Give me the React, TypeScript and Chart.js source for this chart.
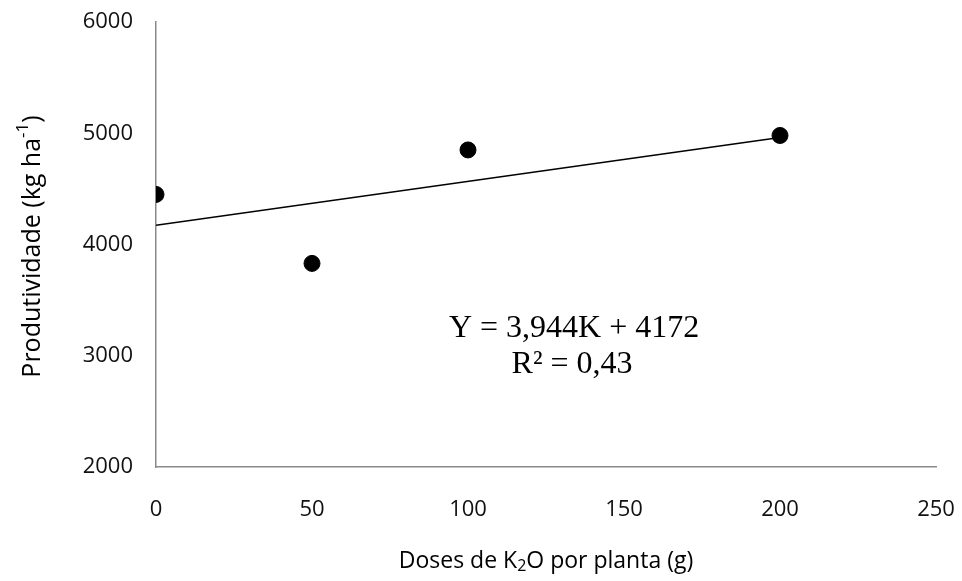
import React, { useEffect, useRef } from "react";
import { Chart, registerables } from "chart.js";

Chart.register(...registerables);

const doses = [0, 50, 100, 200];
const produtividade = [4450, 3830, 4850, 4980];
const slope = 3.944;
const intercept = 4172;
const trendX = [0, 200];
const yTicks = [2000, 3000, 4000, 5000, 6000];
const xTicks = [0, 50, 100, 150, 200, 250];
const equationLines = ["Y = 3,944K + 4172", "R² = 0,43"];
const xTitleParts = [
  { t: "Doses de K", k: "n" },
  { t: "2", k: "sub" },
  { t: "O por planta (g)", k: "n" },
];
const yTitleParts = [
  { t: "Produtividade (kg ha", k: "n" },
  { t: "-1", k: "sup" },
  { t: ")", k: "n" },
];

const FONT = "'Open Sans', sans-serif";
const L = 156, R = 936, T = 22, B = 467, W = 962, H = 581;

function drawParts(ctx: CanvasRenderingContext2D, parts: { t: string; k: string }[], size: number) {
  const small = Math.round(size * 0.68);
  let total = 0;
  for (const p of parts) {
    ctx.font = `${p.k === "n" ? size : small}px ${FONT}`;
    total += ctx.measureText(p.t).width;
  }
  let x = -total / 2;
  for (const p of parts) {
    ctx.font = `${p.k === "n" ? size : small}px ${FONT}`;
    const dy = p.k === "sub" ? size * 0.22 : p.k === "sup" ? -size * 0.38 : 0;
    ctx.fillText(p.t, x, dy);
    x += ctx.measureText(p.t).width;
  }
}

const textPlugin = {
  id: "texts",
  afterDraw(chart: any) {
    const ctx = chart.ctx as CanvasRenderingContext2D;
    const ca = chart.chartArea;
    ctx.save();
    ctx.fillStyle = "#000";
    ctx.textBaseline = "middle";
    ctx.textAlign = "left";
    ctx.save();
    ctx.translate((ca.left + ca.right) / 2, 561);
    drawParts(ctx, xTitleParts, 23);
    ctx.restore();
    ctx.save();
    ctx.translate(33, (ca.top + ca.bottom) / 2 + 2);
    ctx.rotate(-Math.PI / 2);
    drawParts(ctx, yTitleParts, 25);
    ctx.restore();
    ctx.font = `32px 'Liberation Serif', 'Times New Roman', serif`;
    ctx.textAlign = "center";
    ctx.textBaseline = "alphabetic";
    const cx = ca.left + (ca.right - ca.left) * 0.536;
    ctx.fillText(equationLines[0], cx, 337);
    ctx.fillText(equationLines[1], cx - 2, 373);
    ctx.restore();
  },
};

const noPad = (s: any) => {
  s.paddingTop = 0;
  s.paddingBottom = 0;
  s.paddingLeft = 0;
  s.paddingRight = 0;
};

export default function App() {
  const ref = useRef<HTMLCanvasElement>(null);
  useEffect(() => {
    document.body.style.margin = "0";
    const chart = new Chart(ref.current!, {
      type: "scatter",
      data: {
        datasets: [
          {
            label: "Produtividade",
            data: doses.map((d, i) => ({ x: d, y: produtividade[i] })),
            backgroundColor: "#000",
            borderColor: "#000",
            pointRadius: 8,
            pointHoverRadius: 8,
            order: 1,
          },
          {
            label: "Linear",
            type: "line",
            data: trendX.map((x) => ({ x, y: intercept + slope * x })),
            borderColor: "#000",
            borderWidth: 1.5,
            pointRadius: 0,
            fill: false,
            order: 2,
          } as any,
        ],
      },
      options: {
        responsive: false,
        animation: false,
        layout: { padding: { top: T, right: W - R, left: 0, bottom: 0 } },
        plugins: { legend: { display: false }, tooltip: { enabled: false } },
        scales: {
          x: {
            type: "linear",
            min: 0,
            max: 250,
            afterBuildTicks: (s: any) => { s.ticks = xTicks.map((v) => ({ value: v })); },
            afterFit: (s: any) => { s.height = H - B; noPad(s); },
            grid: { display: false, drawTicks: false },
            border: { display: true, color: "#898989", width: 1.5 },
            ticks: {
              color: "#111",
              font: { family: FONT, size: 22 },
              padding: 30,
              maxRotation: 0,
              callback: (v: any) => String(v),
            },
          },
          y: {
            type: "linear",
            min: 2000,
            max: 6000,
            afterBuildTicks: (s: any) => { s.ticks = yTicks.map((v) => ({ value: v })); },
            afterFit: (s: any) => { s.width = L; noPad(s); },
            grid: { display: false, drawTicks: false },
            border: { display: true, color: "#898989", width: 1.5 },
            ticks: {
              color: "#111",
              font: { family: FONT, size: 22 },
              padding: 23,
              callback: (v: any) => String(v),
            },
          },
        },
      },
      plugins: [textPlugin],
    });
    return () => chart.destroy();
  }, []);
  return (
    <div style={{ position: "relative", width: W, height: H }}>
      <canvas ref={ref} width={W} height={H} style={{ width: W, height: H, display: "block" }} />
    </div>
  );
}
